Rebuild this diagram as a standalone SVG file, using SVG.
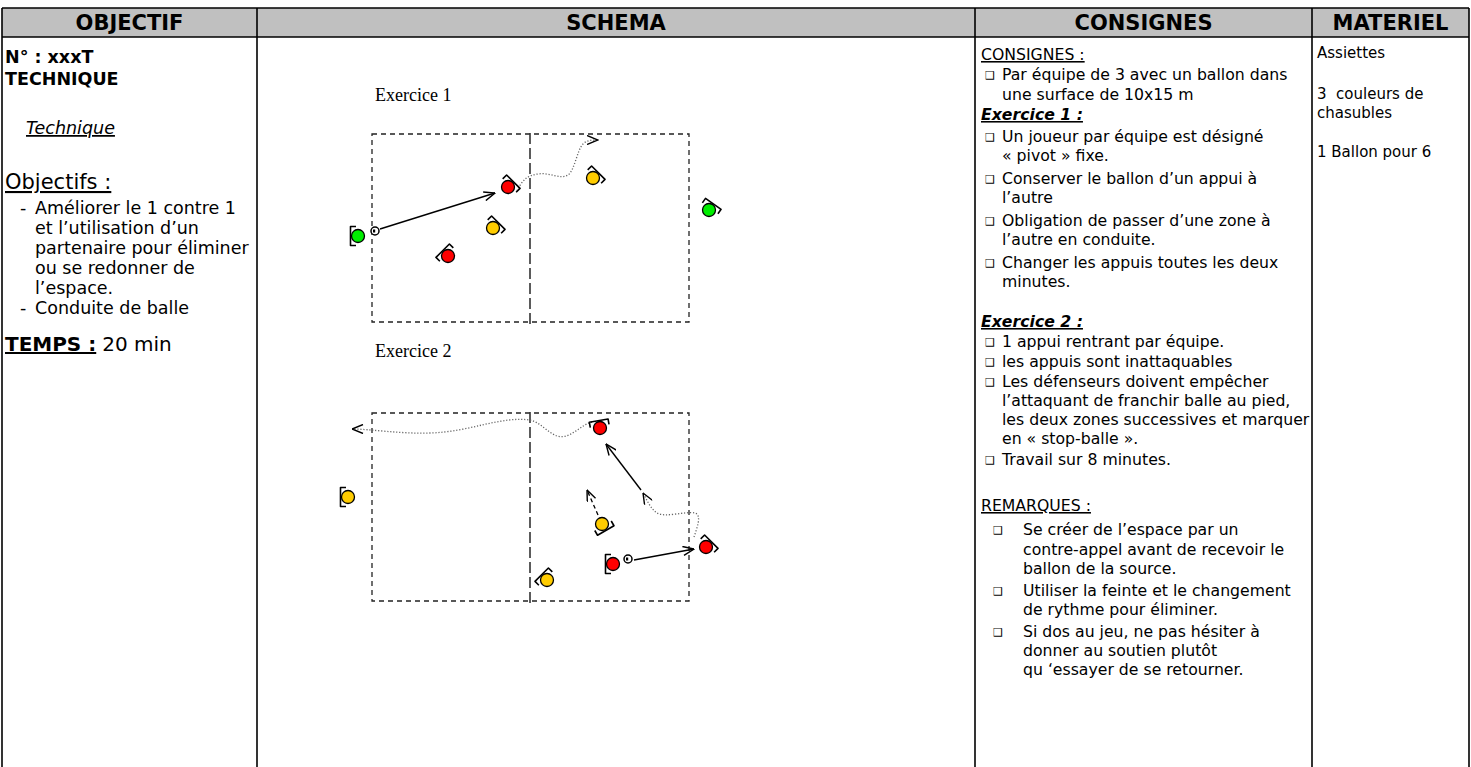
<svg xmlns="http://www.w3.org/2000/svg" width="1471" height="767" viewBox="0 0 1471 767">
<style>
text{font-family:"DejaVu Sans","Liberation Sans",sans-serif;fill:#000}
.hd{font-weight:bold;font-size:21px;text-anchor:middle}
.c{font-size:15.7px}
.l{font-size:17.5px}
.m{font-size:15px}
.b{font-weight:bold}
.u{text-decoration:underline}
.bi{font-weight:bold;font-style:italic;text-decoration:underline}
.bul{font-size:11px}
.ex{font-family:"Liberation Serif","Times New Roman",serif;font-size:18px}
.field{fill:none;stroke:#222;stroke-width:1.3;stroke-dasharray:5,4}
.mid{stroke:#333;stroke-width:1.6;stroke-dasharray:11,4}
.grid{stroke:#000;stroke-width:1.6}
.br{fill:none;stroke:#000;stroke-width:1.6;stroke-linejoin:round}
.pl{stroke:#000;stroke-width:1.3}
.red{fill:#ff0000}.yel{fill:#ffcc00}.grn{fill:#00ee00}
.pass{fill:none;stroke:#000;stroke-width:1.4;marker-end:url(#ah)}
.run{fill:none;stroke:#666;stroke-width:1.3;stroke-dasharray:1.2,1.8;marker-end:url(#ah)}
.mv{fill:none;stroke:#000;stroke-width:1.3;stroke-dasharray:4,3;marker-end:url(#ah)}
</style>
<defs>
<marker id="ah" viewBox="0 0 12 10" refX="11.5" refY="5" markerWidth="12" markerHeight="10" markerUnits="userSpaceOnUse" orient="auto">
<path d="M0.5,0.5 L11.5,5 L0.5,9.5" fill="none" stroke="#000" stroke-width="1.4"/>
</marker>
<path id="br" class="br" d="M-2,-9.5 H-7.5 V9.5 H-2"/>
<g id="ball"><circle r="4" fill="#fff" stroke="#000" stroke-width="1.5"/><rect x="-2" y="-1.5" width="2.2" height="3" fill="#000"/></g>
</defs>

<g id="table">
<rect x="2" y="8" width="1467" height="29" fill="#c0c0c0"/>
<line class="grid" x1="2" y1="8" x2="1469" y2="8"/>
<line class="grid" x1="2" y1="37" x2="1469" y2="37"/>
<line class="grid" x1="2" y1="8" x2="2" y2="767"/>
<line class="grid" x1="257" y1="8" x2="257" y2="767"/>
<line class="grid" x1="975" y1="8" x2="975" y2="767"/>
<line class="grid" x1="1312" y1="8" x2="1312" y2="767"/>
<line class="grid" x1="1469" y1="8" x2="1469" y2="767"/>
<text class="hd" x="129.5" y="30">OBJECTIF</text>
<text class="hd" x="616" y="30">SCHEMA</text>
<text class="hd" x="1143.5" y="30">CONSIGNES</text>
<text class="hd" x="1390.5" y="30">MATERIEL</text>
</g>

<g id="objectif">
<text class="l b" x="5" y="63">N° : xxxT</text>
<text class="l b" x="5" y="85">TECHNIQUE</text>
<text class="l" x="26" y="134" font-style="italic" text-decoration="underline">Technique</text>
<text x="5" y="189" font-size="21" text-decoration="underline">Objectifs :</text>
<text class="l" x="20" y="214">-</text><text class="l" x="35" y="214">Améliorer le 1 contre 1</text>
<text class="l" x="35" y="234">et l’utilisation d’un</text>
<text class="l" x="35" y="254">partenaire pour éliminer</text>
<text class="l" x="35" y="274">ou se redonner de</text>
<text class="l" x="35" y="294">l’espace.</text>
<text class="l" x="20" y="314">-</text><text class="l" x="35" y="314">Conduite de balle</text>
<text x="5" y="351" font-size="20"><tspan font-weight="bold" text-decoration="underline">TEMPS :</tspan><tspan dx="6">20 min</tspan></text>
</g>

<g id="schema">
<text class="ex" x="375" y="101">Exercice 1</text>
<text class="ex" x="375" y="357">Exercice 2</text>
<g id="field1">
<rect class="field" x="372" y="134" width="317" height="188"/>
<line class="mid" x1="530" y1="133" x2="530" y2="325"/>
</g>
<g id="field2">
<rect class="field" x="372" y="413" width="317" height="188"/>
<line class="mid" x1="530" y1="412" x2="530" y2="604"/>
</g>
</g>

<g id="connectors">
<path class="pass" d="M380,229 L495,193"/>
<path class="run" d="M517,191 C522,180 528,175 538,174 C550,172 560,180 568,175 C575,170 577,150 583,144 C587,140 592,140 598,140"/>
<path class="run" d="M592,422 C580,425 570,440 557,436 C548,433 540,422 530,420 C500,416 470,432 430,433 C400,434 370,429 352,429"/>
<path class="pass" d="M641,490 L606,444"/>
<path class="run" d="M694,537 C697,528 702,515 695,513 C685,511 665,518 657,513 C650,508 647,500 643,493"/>
<path class="pass" d="M634,560 L694,549"/>
<path class="mv" d="M598,515 L587,490"/>
</g>

<g id="ex1-green-left" transform="translate(358,236)"><use href="#br"/><circle class="pl grn" r="6.5"/></g>
<use id="ex1-ball" href="#ball" transform="translate(375,231)"/>
<g id="ex1-red-1" transform="translate(508,187)"><use href="#br" transform="rotate(135)"/><circle class="pl red" r="6.5"/></g>
<g id="ex1-yellow-1" transform="translate(493,228)"><use href="#br" transform="rotate(135)"/><circle class="pl yel" r="6.5"/></g>
<g id="ex1-red-2" transform="translate(448,256)"><use href="#br" transform="rotate(45)"/><circle class="pl red" r="6.5"/></g>
<g id="ex1-yellow-2" transform="translate(593,178)"><use href="#br" transform="rotate(135)"/><circle class="pl yel" r="6.5"/></g>
<g id="ex1-green-right" transform="translate(709,210)"><use href="#br" transform="rotate(125)"/><circle class="pl grn" r="6.5"/></g>

<g id="ex2-red-1" transform="translate(600,428)"><use href="#br" transform="rotate(80)"/><circle class="pl red" r="6.5"/></g>
<g id="ex2-yellow-1" transform="translate(602,524)"><use href="#br" transform="rotate(-120)"/><circle class="pl yel" r="6.5"/></g>
<g id="ex2-red-2" transform="translate(706,547)"><use href="#br" transform="rotate(135)"/><circle class="pl red" r="6.5"/></g>
<g id="ex2-red-3" transform="translate(613,564)"><use href="#br"/><circle class="pl red" r="6.5"/></g>
<use id="ex2-ball" href="#ball" transform="translate(628,559)"/>
<g id="ex2-yellow-2" transform="translate(547,580)"><use href="#br" transform="rotate(45)"/><circle class="pl yel" r="6.5"/></g>
<g id="ex2-yellow-3" transform="translate(348,497)"><use href="#br"/><circle class="pl yel" r="6.5"/></g>

<g id="consignes">
<text class="c u" x="981" y="60">CONSIGNES :</text>
<text class="bul" x="985" y="79">❑</text><text class="c" x="1002" y="80">Par équipe de 3 avec un ballon dans</text>
<text class="c" x="1002" y="100">une surface de 10x15 m</text>
<text class="c bi" x="981" y="120">Exercice 1 :</text>
<text class="bul" x="985" y="141">❑</text><text class="c" x="1002" y="142">Un joueur par équipe est désigné</text>
<text class="c" x="1002" y="161">« pivot » fixe.</text>
<text class="bul" x="985" y="183">❑</text><text class="c" x="1002" y="184">Conserver le ballon d’un appui à</text>
<text class="c" x="1002" y="203">l’autre</text>
<text class="bul" x="985" y="225">❑</text><text class="c" x="1002" y="226">Obligation de passer d’une zone à</text>
<text class="c" x="1002" y="245">l’autre en conduite.</text>
<text class="bul" x="985" y="267">❑</text><text class="c" x="1002" y="268">Changer les appuis toutes les deux</text>
<text class="c" x="1002" y="287">minutes.</text>
<text class="c bi" x="981" y="327">Exercice 2 :</text>
<text class="bul" x="985" y="346">❑</text><text class="c" x="1002" y="347">1 appui rentrant par équipe.</text>
<text class="bul" x="985" y="366">❑</text><text class="c" x="1002" y="367">les appuis sont inattaquables</text>
<text class="bul" x="985" y="386">❑</text><text class="c" x="1002" y="387">Les défenseurs doivent empêcher</text>
<text class="c" x="1002" y="406">l’attaquant de franchir balle au pied,</text>
<text class="c" x="1002" y="425">les deux zones successives et marquer</text>
<text class="c" x="1002" y="444">en « stop-balle ».</text>
<text class="bul" x="985" y="464">❑</text><text class="c" x="1002" y="465">Travail sur 8 minutes.</text>
<text class="c u" x="981" y="511">REMARQUES :</text>
<text class="bul" x="993" y="534">❑</text><text class="c" x="1023" y="535">Se créer de l’espace par un</text>
<text class="c" x="1023" y="555">contre-appel avant de recevoir le</text>
<text class="c" x="1023" y="574">ballon de la source.</text>
<text class="bul" x="993" y="595">❑</text><text class="c" x="1023" y="596">Utiliser la feinte et le changement</text>
<text class="c" x="1023" y="615">de rythme pour éliminer.</text>
<text class="bul" x="993" y="636">❑</text><text class="c" x="1023" y="637">Si dos au jeu, ne pas hésiter à</text>
<text class="c" x="1023" y="656">donner au soutien plutôt</text>
<text class="c" x="1023" y="675">qu ‘essayer de se retourner.</text>
</g>

<g id="materiel">
<text class="m" x="1317" y="58">Assiettes</text>
<text class="m" x="1317" y="99" xml:space="preserve">3  couleurs de</text>
<text class="m" x="1317" y="118">chasubles</text>
<text class="m" x="1317" y="157">1 Ballon pour 6</text>
</g>
</svg>
